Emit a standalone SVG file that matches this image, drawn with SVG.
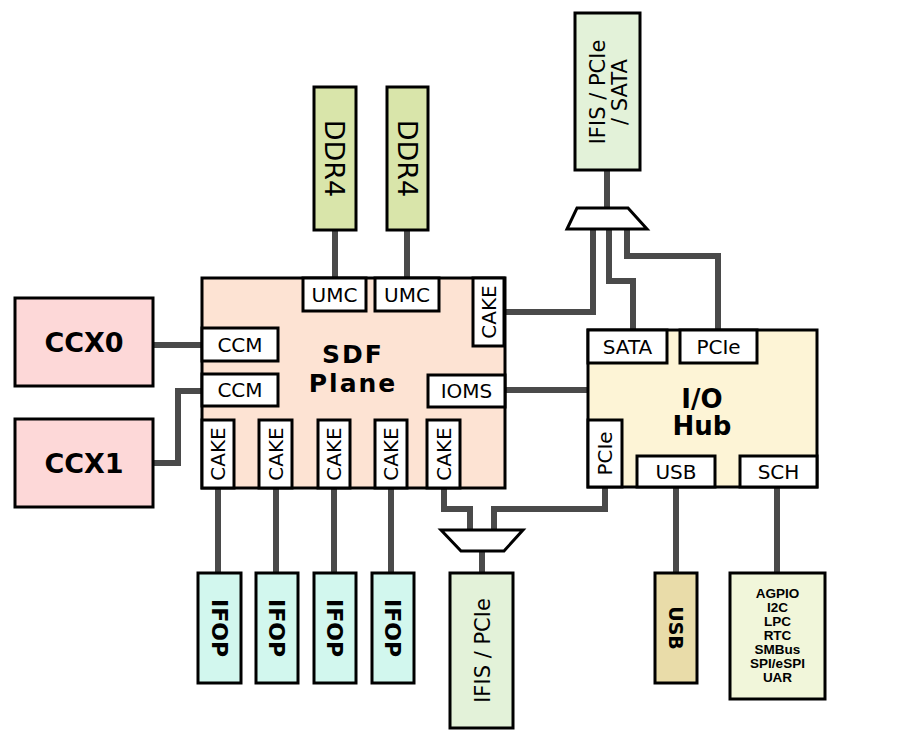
<svg xmlns="http://www.w3.org/2000/svg" width="924" height="742" viewBox="0 0 924 742">
<style>
.b{stroke:#000;stroke-width:3}
.w{fill:#fff}
.t{font-family:"DejaVu Sans",Verdana,sans-serif;font-size:20px;fill:#000;text-anchor:middle}
.bold{font-weight:bold}
.c{fill:none;stroke:#4a4a4a;stroke-width:6}
.p{font-family:"Liberation Sans",Arial,sans-serif;font-weight:bold;font-size:13.5px;text-anchor:middle}
</style>
<rect width="924" height="742" fill="#fff"/>
<g id="connectors" class="c">
<path d="M153 345H202"/>
<path d="M153 463H178V391H202"/>
<path d="M335 230V278"/>
<path d="M407 230V278"/>
<path d="M504 312H593V229"/>
<path d="M633 330V281H609V229"/>
<path d="M718 330V256H627V229"/>
<path d="M607 170V208"/>
<path d="M505 390H588"/>
<path d="M218 488V573"/>
<path d="M276 488V573"/>
<path d="M334 488V573"/>
<path d="M391 488V573"/>
<path d="M444 488V509H470V530"/>
<path d="M605 487V509H494V530"/>
<path d="M482 551V573"/>
<path d="M676 487V573"/>
<path d="M777 487V573"/>
</g>
<g id="mux-top"><polygon class="b w" points="577,208 628,208 647,229 567,229"/></g>
<g id="mux-bottom"><polygon class="b w" points="441,530 523,530 504,551 461,551"/></g>
<g id="sdf">
<rect class="b" x="202" y="278" width="303" height="210" fill="#fde3d3"/>
<text class="t bold" x="353" y="363" style="font-size:25px;letter-spacing:2px">SDF</text>
<text class="t bold" x="353" y="392" style="font-size:25px;letter-spacing:2px">Plane</text>
</g>
<g id="umc1"><rect class="b w" x="303" y="278" width="63" height="33"/><text class="t" x="334.5" y="302">UMC</text></g>
<g id="umc2"><rect class="b w" x="375" y="278" width="64" height="33"/><text class="t" x="407" y="302">UMC</text></g>
<g id="cake-r"><rect class="b w" x="473" y="278" width="31" height="68"/><text class="t" transform="translate(488.5,312) rotate(-90)" y="7">CAKE</text></g>
<g id="ccm1"><rect class="b w" x="202" y="328" width="76" height="33"/><text class="t" x="240" y="352">CCM</text></g>
<g id="ccm2"><rect class="b w" x="202" y="374" width="76" height="32"/><text class="t" x="240" y="397">CCM</text></g>
<g id="ioms"><rect class="b w" x="428" y="375" width="77" height="32"/><text class="t" x="466.5" y="398">IOMS</text></g>
<g id="cake1"><rect class="b w" x="202" y="420" width="32" height="68"/><text class="t" transform="translate(218,454) rotate(-90)" y="7">CAKE</text></g>
<g id="cake2"><rect class="b w" x="259" y="420" width="33" height="68"/><text class="t" transform="translate(275.5,454) rotate(-90)" y="7">CAKE</text></g>
<g id="cake3"><rect class="b w" x="318" y="420" width="32" height="68"/><text class="t" transform="translate(334,454) rotate(-90)" y="7">CAKE</text></g>
<g id="cake4"><rect class="b w" x="375" y="420" width="32" height="68"/><text class="t" transform="translate(391,454) rotate(-90)" y="7">CAKE</text></g>
<g id="cake5"><rect class="b w" x="427" y="420" width="33" height="68"/><text class="t" transform="translate(443.5,454) rotate(-90)" y="7">CAKE</text></g>
<g id="iohub">
<rect class="b" x="588" y="330" width="229" height="157" fill="#fdf4d6"/>
<text class="t bold" x="702" y="408" style="font-size:26px">I/O</text>
<text class="t bold" x="702" y="435" style="font-size:26px">Hub</text>
</g>
<g id="sata"><rect class="b w" x="588" y="330" width="79" height="33"/><text class="t" x="627.5" y="354">SATA</text></g>
<g id="pcie1"><rect class="b w" x="680" y="330" width="77" height="33"/><text class="t" x="718.5" y="354">PCIe</text></g>
<g id="pcie2"><rect class="b w" x="588" y="420" width="34" height="67"/><text class="t" transform="translate(605,453.5) rotate(-90)" y="7">PCIe</text></g>
<g id="usb-port"><rect class="b w" x="637" y="456" width="78" height="31"/><text class="t" x="676" y="479">USB</text></g>
<g id="sch"><rect class="b w" x="740" y="456" width="77" height="31"/><text class="t" x="778.5" y="479">SCH</text></g>
<g id="ccx0"><rect class="b" x="15" y="298" width="138" height="88" fill="#fdd8d8"/><text class="t bold" x="84" y="352" style="font-size:27px">CCX0</text></g>
<g id="ccx1"><rect class="b" x="15" y="419" width="138" height="88" fill="#fdd8d8"/><text class="t bold" x="84" y="473" style="font-size:27px">CCX1</text></g>
<g id="ddr4a"><rect class="b" x="314" y="87" width="42" height="143" fill="#d9e5aa"/><text class="t" transform="translate(335,158.5) rotate(90)" y="10" style="font-size:27px">DDR4</text></g>
<g id="ddr4b"><rect class="b" x="387" y="87" width="41" height="143" fill="#d9e5aa"/><text class="t" transform="translate(407.5,158.5) rotate(90)" y="10" style="font-size:27px">DDR4</text></g>
<g id="ifis-top"><rect class="b" x="575" y="13" width="65" height="157" fill="#e3f2d9"/>
<text class="t" transform="translate(607.5,92) rotate(-90)" style="font-size:21px"><tspan x="0" y="-3">IFIS / PCIe</tspan><tspan x="0" y="19">/ SATA</tspan></text></g>
<g id="ifop1"><rect class="b" x="198" y="573" width="43" height="110" fill="#d2f7ee"/><text class="t bold" transform="translate(219.5,628) rotate(90)" y="8" style="font-size:22px">IFOP</text></g>
<g id="ifop2"><rect class="b" x="256" y="573" width="42" height="110" fill="#d2f7ee"/><text class="t bold" transform="translate(277,628) rotate(90)" y="8" style="font-size:22px">IFOP</text></g>
<g id="ifop3"><rect class="b" x="314" y="573" width="42" height="110" fill="#d2f7ee"/><text class="t bold" transform="translate(335,628) rotate(90)" y="8" style="font-size:22px">IFOP</text></g>
<g id="ifop4"><rect class="b" x="372" y="573" width="42" height="110" fill="#d2f7ee"/><text class="t bold" transform="translate(393,628) rotate(90)" y="8" style="font-size:22px">IFOP</text></g>
<g id="ifis-bottom"><rect class="b" x="450" y="573" width="63" height="155" fill="#e3f2d9"/><text class="t" transform="translate(481.5,650.5) rotate(-90)" y="8" style="font-size:21px">IFIS / PCIe</text></g>
<g id="usb"><rect class="b" x="655" y="573" width="42" height="110" fill="#e9dca9"/><text class="t bold" transform="translate(676,628) rotate(90)" y="7" style="font-size:19px">USB</text></g>
<g id="periph"><rect class="b" x="730" y="573" width="95" height="126" fill="#f1f6da"/>
<text class="p" x="777.5" y="598">AGPIO</text>
<text class="p" x="777.5" y="612">I2C</text>
<text class="p" x="777.5" y="626">LPC</text>
<text class="p" x="777.5" y="640">RTC</text>
<text class="p" x="777.5" y="654">SMBus</text>
<text class="p" x="777.5" y="668">SPI/eSPI</text>
<text class="p" x="777.5" y="682">UAR</text>
</g>
</svg>
